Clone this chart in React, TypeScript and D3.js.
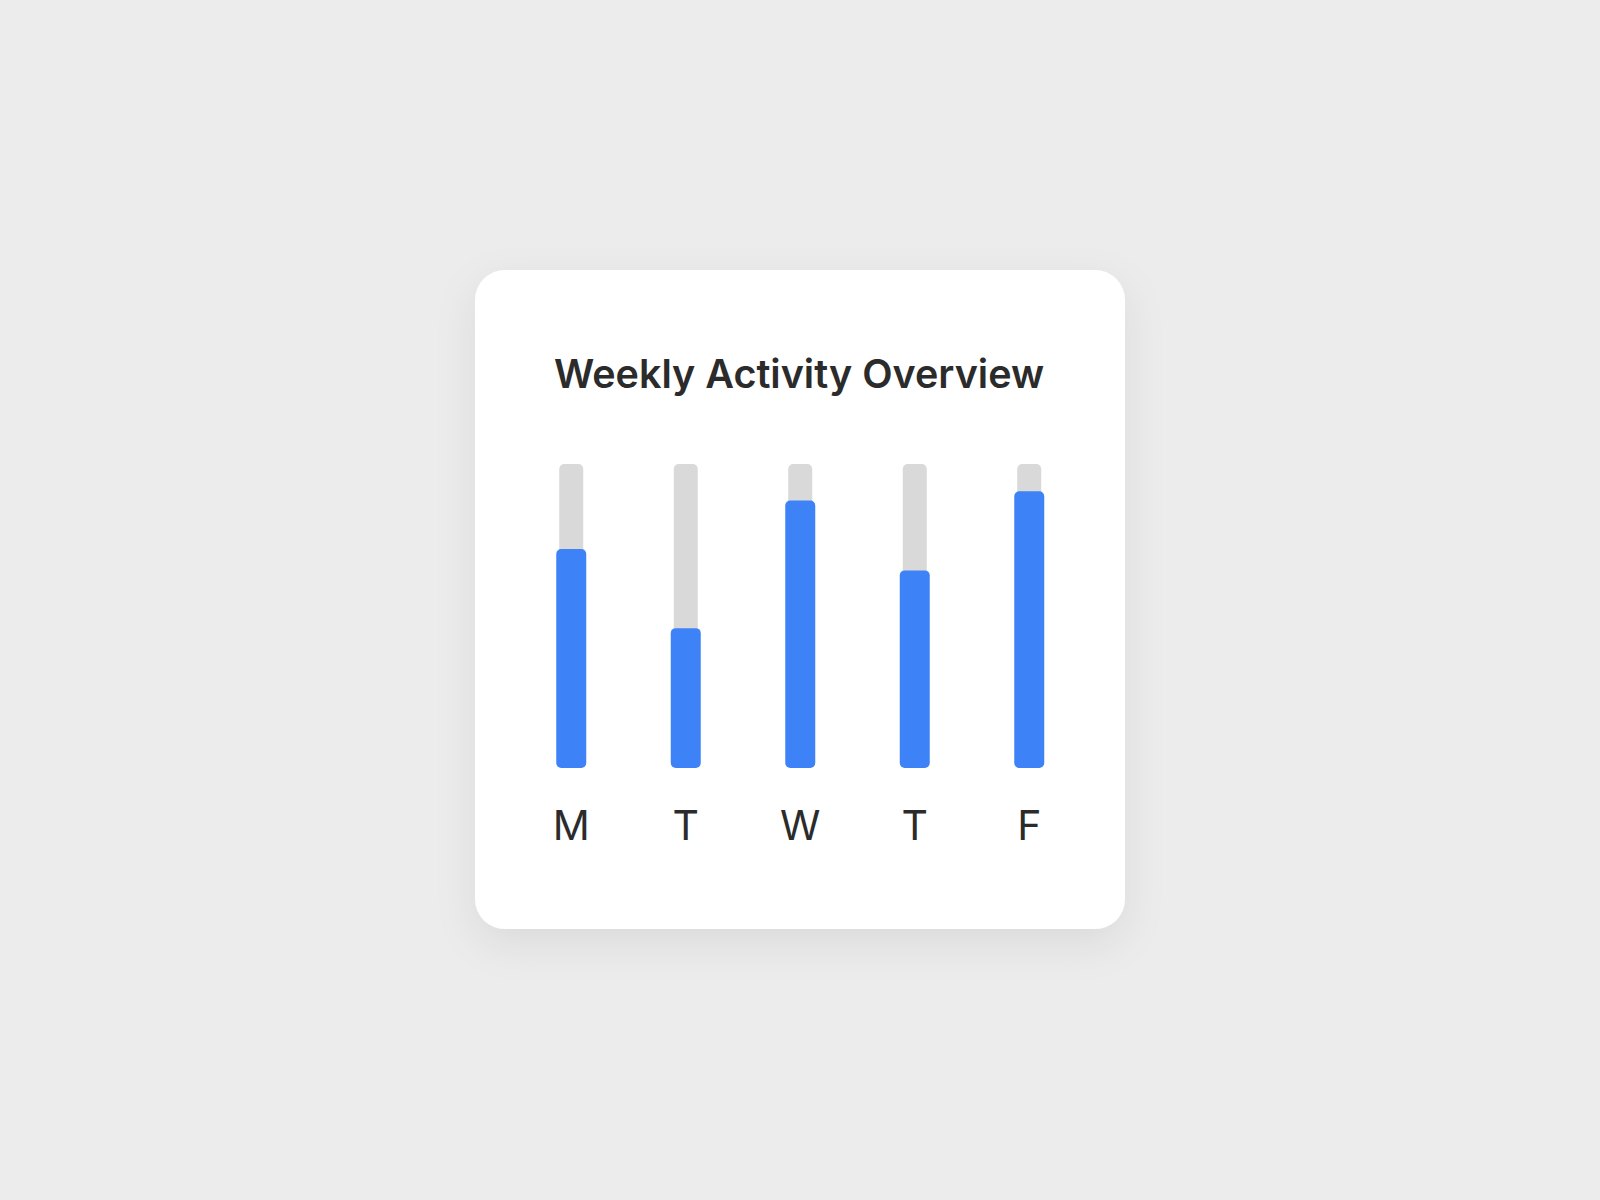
import { useEffect, useRef } from 'react';
import * as d3 from 'd3';

// Weekly activity, percent of daily goal
const days = ['M', 'T', 'W', 'T', 'F'];
const activity = [72, 46, 88, 65, 91];
const maxValue = 100;
const title = 'Weekly Activity Overview';

const WIDTH = 1600;
const HEIGHT = 1200;

const App = () => {
  const svgRef = useRef<SVGSVGElement>(null);

  useEffect(() => {
    if (!svgRef.current) return;

    const svg = d3.select(svgRef.current);
    svg.selectAll('*').remove();

    const card = { x: 475, y: 270, width: 650, height: 659, radius: 30 };

    // Soft shadow under the card
    const defs = svg.append('defs');
    const filter = defs.append('filter')
      .attr('id', 'card-shadow')
      .attr('x', '-30%')
      .attr('y', '-30%')
      .attr('width', '160%')
      .attr('height', '160%');
    filter.append('feDropShadow')
      .attr('dx', 0)
      .attr('dy', 14)
      .attr('stdDeviation', 20)
      .attr('flood-color', '#000')
      .attr('flood-opacity', 0.08);

    svg.append('rect')
      .attr('width', WIDTH)
      .attr('height', HEIGHT)
      .attr('fill', '#ececec');

    svg.append('rect')
      .attr('x', card.x)
      .attr('y', card.y)
      .attr('width', card.width)
      .attr('height', card.height)
      .attr('rx', card.radius)
      .attr('ry', card.radius)
      .attr('fill', '#ffffff')
      .attr('filter', 'url(#card-shadow)');

    svg.append('text')
      .attr('x', card.x + card.width / 2 - 1)
      .attr('y', 388)
      .attr('text-anchor', 'middle')
      .attr('font-family', 'Inter, "Noto Sans", sans-serif')
      .attr('font-size', 39.5)
      .attr('font-weight', 600)
      .attr('fill', '#2b2b2b')
      .text(title);

    // Scales
    const xScale = d3.scaleBand<number>()
      .domain(days.map((_, i) => i))
      .range([card.x + 39, card.x + 611.5])
      .padding(0);

    const yScale = d3.scaleLinear()
      .domain([0, maxValue])
      .range([768, 464]);

    const trackWidth = 24;
    const barWidth = 30;
    const center = (i: number) => (xScale(i) || 0) + xScale.bandwidth() / 2;

    const g = svg.append('g');

    // Grey tracks (full scale)
    g.selectAll('.track')
      .data(activity)
      .enter()
      .append('rect')
      .attr('class', 'track')
      .attr('x', (_, i) => center(i) - trackWidth / 2)
      .attr('y', yScale(maxValue))
      .attr('width', trackWidth)
      .attr('height', yScale(0) - yScale(maxValue))
      .attr('rx', 5)
      .attr('ry', 5)
      .attr('fill', '#d9d9d9');

    // Blue value bars
    g.selectAll('.bar')
      .data(activity)
      .enter()
      .append('rect')
      .attr('class', 'bar')
      .attr('x', (_, i) => center(i) - barWidth / 2)
      .attr('y', d => yScale(d))
      .attr('width', barWidth)
      .attr('height', d => yScale(0) - yScale(d))
      .attr('rx', 5)
      .attr('ry', 5)
      .attr('fill', '#3e82f7');

    // Day labels
    g.selectAll('.day-label')
      .data(days)
      .enter()
      .append('text')
      .attr('class', 'day-label')
      .attr('x', (_, i) => center(i))
      .attr('y', 840)
      .attr('text-anchor', 'middle')
      .attr('font-family', 'Inter, "Noto Sans", sans-serif')
      .attr('font-size', 41)
      .attr('font-weight', 400)
      .attr('fill', '#2b2b2b')
      .text(d => d);
  }, []);

  return (
    <svg
      ref={svgRef}
      width={WIDTH}
      height={HEIGHT}
      style={{ position: 'absolute', left: 0, top: 0, display: 'block' }}
    />
  );
};

export default App;
